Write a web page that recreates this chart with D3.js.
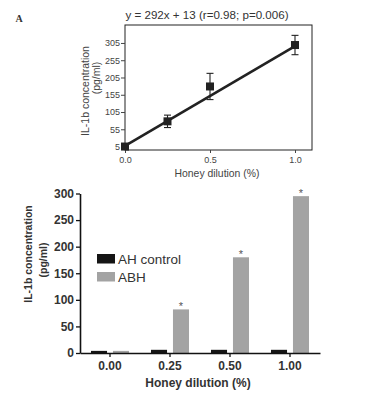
<!DOCTYPE html>
<html>
<head>
<meta charset="utf-8">
<script src="https://cdn.jsdelivr.net/npm/d3@7/dist/d3.min.js"></script>
<style>
html,body{margin:0;padding:0;background:#fff;}
svg{display:block;font-family:"Liberation Sans",Arial,sans-serif;}
</style>
</head>
<body>
<svg id="chart" width="370" height="396"></svg>
<script>
// ---- Top panel (regression) data ----
const topX = [0, 0.25, 0.5, 1.0];
const topMean = [5, 78, 179, 299];
const topErr = [0, 18, 38, 28];
const fitX = [0, 1.0];
const fitY = [7, 296];
const topYTicks = [5, 55, 105, 155, 205, 255, 305];
const topXTicks = [0, 0.5, 1.0];
const topTitle = "y = 292x + 13 (r=0.98; p=0.006)";

// ---- Bottom panel (bars) data ----
const categories = ["0.00", "0.25", "0.50", "1.00"];
const seriesNames = ["AH control", "ABH"];
const ahControl = [4, 6, 6, 6];
const abh = [4, 82, 180, 295];
const starred = [false, true, true, true];
const botYTicks = [0, 50, 100, 150, 200, 250, 300];

const svg = d3.select("#chart");

// Panel label
svg.append("text").attr("x", 19).attr("y", 22).attr("text-anchor", "middle")
  .attr("font-family", "'Liberation Serif','DejaVu Serif',serif").attr("font-weight", "bold")
  .attr("font-size", 10).attr("fill", "#333").text("A");

// ===== Top panel =====
const tx = d3.scaleLinear().domain([0, 1.1]).range([125, 312]);
const ty = d3.scaleLinear().domain([-5, 357]).range([150, 25]);

svg.append("text").attr("x", 207).attr("y", 19).attr("text-anchor", "middle")
  .attr("font-size", 11.6).attr("fill", "#333").text(topTitle);

svg.append("rect").attr("x", tx(0)).attr("y", ty(357))
  .attr("width", tx(1.1) - tx(0)).attr("height", ty(-5) - ty(357))
  .attr("fill", "none").attr("stroke", "#222").attr("stroke-width", 1);

const tyAxis = svg.append("g").attr("transform", `translate(${tx(0)},0)`)
  .call(d3.axisLeft(ty).tickValues(topYTicks).tickSize(4).tickPadding(1).tickFormat(d3.format("d")));
tyAxis.select(".domain").remove();
tyAxis.selectAll("text").attr("font-size", 9).attr("fill", "#444").attr("font-family", "'Liberation Sans',Arial,sans-serif");
tyAxis.selectAll("line").attr("stroke", "#444");

const txAxis = svg.append("g").attr("transform", `translate(0,${ty(-5)})`)
  .call(d3.axisBottom(tx).tickValues(topXTicks).tickSize(3).tickPadding(4).tickFormat(d3.format(".1f")));
txAxis.select(".domain").remove();
txAxis.selectAll("text").attr("font-size", 9).attr("fill", "#444").attr("font-family", "'Liberation Sans',Arial,sans-serif");
txAxis.selectAll("line").attr("stroke", "#444");

svg.append("text").attr("x", 217).attr("y", 177).attr("text-anchor", "middle")
  .attr("font-size", 10.4).attr("fill", "#444").text("Honey dilution (%)");

svg.append("text").attr("transform", "translate(88.5,91) rotate(-90)").attr("text-anchor", "middle")
  .attr("font-size", 10.5).attr("fill", "#444").text("IL-1b concentration");
svg.append("text").attr("transform", "translate(100,78) rotate(-90)").attr("text-anchor", "middle")
  .attr("font-size", 10.5).attr("fill", "#444").text("(pg/ml)");

// fit line
svg.append("path")
  .datum(fitX.map((x, i) => [x, fitY[i]]))
  .attr("d", d3.line().x(d => tx(d[0])).y(d => ty(d[1])))
  .attr("stroke", "#222").attr("stroke-width", 2.6).attr("fill", "none");

// error bars
const eb = svg.append("g").attr("stroke", "#222").attr("stroke-width", 1.1);
topX.forEach((x, i) => {
  if (topErr[i] <= 0) return;
  const cx = tx(x);
  eb.append("line").attr("x1", cx).attr("x2", cx).attr("y1", ty(topMean[i] + topErr[i])).attr("y2", ty(topMean[i] - topErr[i]));
  eb.append("line").attr("x1", cx - 3.5).attr("x2", cx + 3.5).attr("y1", ty(topMean[i] + topErr[i])).attr("y2", ty(topMean[i] + topErr[i]));
  eb.append("line").attr("x1", cx - 3.5).attr("x2", cx + 3.5).attr("y1", ty(topMean[i] - topErr[i])).attr("y2", ty(topMean[i] - topErr[i]));
});
svg.append("g").selectAll("rect").data(topX).join("rect")
  .attr("x", (d) => tx(d) - 4).attr("y", (d, i) => ty(topMean[i]) - 4)
  .attr("width", 8).attr("height", 8).attr("fill", "#222");

// ===== Bottom panel =====
const bx = d3.scaleBand().domain(categories).range([80, 320]);
const bsub = d3.scaleBand().domain(seriesNames).range([0, bx.bandwidth()]).paddingInner(0.27).paddingOuter(0.5);
const by = d3.scaleLinear().domain([0, 300]).range([353, 193.5]);
const colors = {"AH control": "#151515", "ABH": "#a3a3a3"};

const groups = svg.append("g").selectAll("g").data(categories).join("g")
  .attr("transform", d => `translate(${bx(d)},0)`);
groups.each(function(cat, i) {
  const g = d3.select(this);
  [[seriesNames[0], ahControl[i]], [seriesNames[1], abh[i]]].forEach(([name, v]) => {
    g.append("rect").attr("x", bsub(name)).attr("y", by(v))
      .attr("width", bsub.bandwidth()).attr("height", by(0) - by(v))
      .attr("fill", colors[name]);
  });
  if (starred[i]) {
    g.append("text").attr("x", bsub(seriesNames[1]) + bsub.bandwidth() / 2).attr("y", by(abh[i]) + 1)
      .attr("text-anchor", "middle").attr("font-size", 11).attr("fill", "#555").text("*");
  }
});

const byAxis = svg.append("g").attr("transform", "translate(80,0)")
  .call(d3.axisLeft(by).tickValues(botYTicks).tickSize(4).tickSizeOuter(0).tickPadding(2));
byAxis.select(".domain").attr("stroke", "#111").attr("stroke-width", 1.6);
byAxis.selectAll("line").attr("stroke", "#111").attr("stroke-width", 1.3);
byAxis.selectAll("text").attr("font-size", 12).attr("font-weight", "bold").attr("fill", "#333").attr("font-family", "'Liberation Sans',Arial,sans-serif");

const bxAxis = svg.append("g").attr("transform", "translate(0,353)")
  .call(d3.axisBottom(bx).tickSize(4).tickSizeOuter(0).tickPadding(4));
bxAxis.select(".domain").attr("stroke", "#111").attr("stroke-width", 1.6);
bxAxis.selectAll("line").attr("stroke", "#111").attr("stroke-width", 1.3);
bxAxis.selectAll("text").attr("font-size", 12).attr("font-weight", "bold").attr("fill", "#333").attr("font-family", "'Liberation Sans',Arial,sans-serif");

svg.append("text").attr("x", 198).attr("y", 387).attr("text-anchor", "middle")
  .attr("font-size", 12).attr("font-weight", "bold").attr("fill", "#333").text("Honey dilution (%)");

svg.append("text").attr("transform", "translate(32,254) rotate(-90)").attr("text-anchor", "middle")
  .attr("font-size", 10.5).attr("font-weight", "bold").attr("fill", "#333").text("IL-1b concentration");
svg.append("text").attr("transform", "translate(46.5,260) rotate(-90)").attr("text-anchor", "middle")
  .attr("font-size", 10.5).attr("font-weight", "bold").attr("fill", "#333").text("(pg/ml)");

// legend
const leg = svg.append("g");
seriesNames.forEach((name, i) => {
  leg.append("rect").attr("x", 97).attr("y", 254 + i * 18).attr("width", 18).attr("height", 9.5).attr("fill", colors[name]);
  leg.append("text").attr("x", 118).attr("y", 263.5 + i * 18).attr("font-size", 13.5).attr("fill", "#333").text(name);
});
</script>
</body>
</html>
